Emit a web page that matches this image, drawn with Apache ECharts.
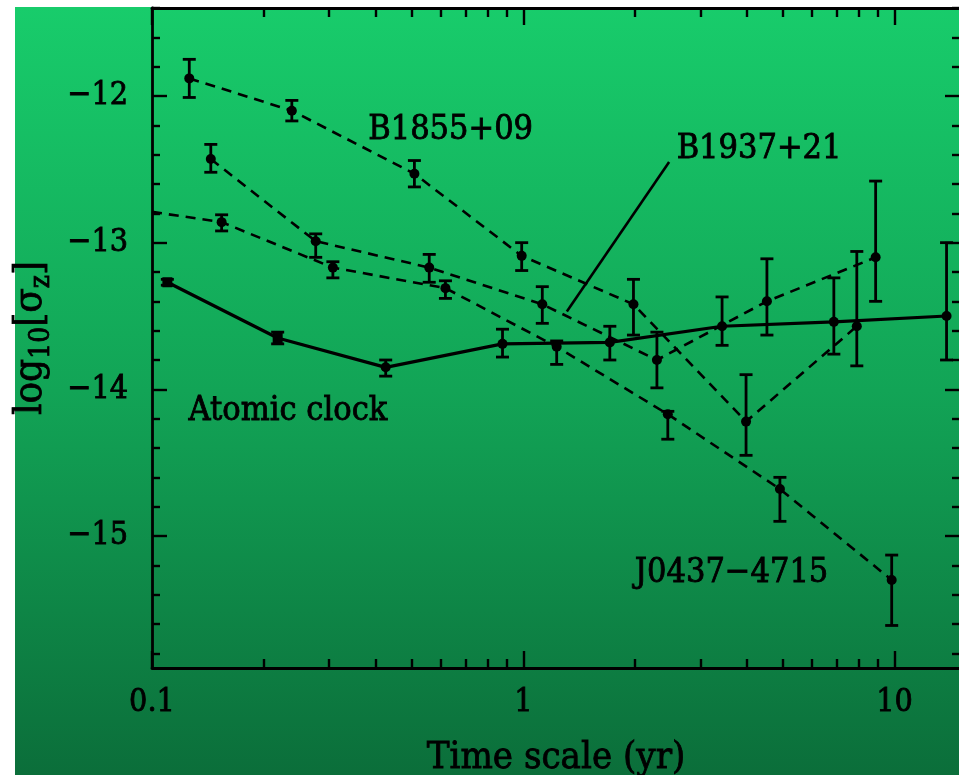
<!DOCTYPE html>
<html>
<head>
<meta charset="utf-8">
<script src="https://cdn.jsdelivr.net/npm/echarts@6/dist/echarts.min.js"></script>
<style>
  html, body { margin: 0; padding: 0; background: #ffffff; }
  #chart { width: 959px; height: 775px; }
</style>
</head>
<body>
<div id="chart"></div>
<script>
// Stability of clocks: log10 of sigma_z against averaging time (years)

// Atomic clock (solid line)
const atomicT  = [0.11, 0.218, 0.426, 0.879, 1.71, 3.43, 6.86, 13.8];
const atomicV  = [-13.27, -13.65, -13.85, -13.69, -13.68, -13.57, -13.54, -13.50];
const atomicLo = [-13.29, -13.69, -13.91, -13.78, -13.80, -13.70, -13.76, -13.80];
const atomicHi = [-13.25, -13.61, -13.80, -13.59, -13.57, -13.37, -13.24, -13.00];

// PSR B1855+09
const b1855T  = [0.126, 0.238, 0.509, 0.99, 1.98, 3.98, 7.91];
const b1855V  = [-11.88, -12.10, -12.53, -13.09, -13.42, -14.22, -13.57];
const b1855Lo = [-12.01, -12.17, -12.62, -13.19, -13.63, -14.45, -13.84];
const b1855Hi = [-11.75, -12.03, -12.44, -13.00, -13.25, -13.90, -13.06];

// PSR B1937+21
const b1937T  = [0.144, 0.276, 0.558, 1.125, 2.29, 4.53, 8.89];
const b1937V  = [-12.43, -12.99, -13.17, -13.42, -13.80, -13.40, -13.10];
const b1937Lo = [-12.52, -13.10, -13.27, -13.55, -13.99, -13.63, -13.40];
const b1937Hi = [-12.33, -12.94, -13.08, -13.30, -13.61, -13.11, -12.58];

// PSR J0437-4715 (first entry is where the curve enters at the left edge, no error bar)
const j0437T  = [0.1, 0.154, 0.307, 0.617, 1.23, 2.45, 4.91, 9.82];
const j0437V  = [-12.79, -12.86, -13.17, -13.31, -13.71, -14.17, -14.68, -15.30];
const j0437Lo = [null, -12.92, -13.24, -13.38, -13.83, -14.34, -14.90, -15.61];
const j0437Hi = [null, -12.81, -13.13, -13.26, -13.67, -14.15, -14.60, -15.13];

// Leader line from the B1937+21 label down to its curve
const leaderLine = [[1.31, -13.47], [2.47, -12.45]];

// Curve names written inside the plot, anchored at their left edge
const curveLabels = [
  { name: 'B1855+09',     value: [0.381, -12.235] },
  { name: 'B1937+21',     value: [2.58, -12.36] },
  { name: 'Atomic clock', value: [0.125, -14.15] },
  { name: 'J0437\u22124715', value: [1.99, -15.255] }
];

// Axis ranges and ticks
const xRange = [0.1, 15];
const yRange = [-15.9, -11.4];
const xMajorTicks = [0.1, 1, 10];
const xMinorTicks = [0.2, 0.3, 0.4, 0.5, 0.6, 0.7, 0.8, 0.9, 2, 3, 4, 5, 6, 7, 8, 9];
const yMajorTicks = [-15, -14, -13, -12];
const yMinorTicks = [-15.8, -15.6, -15.4, -15.2, -14.8, -14.6, -14.4, -14.2, -13.8, -13.6,
                     -13.4, -13.2, -12.8, -12.6, -12.4, -12.2, -11.8, -11.6, -11.4];

const FONT = "'DejaVu Serif Condensed', 'DejaVu Serif', serif";
const INK = '#000000';
// slight outline so the lettering reads as heavy as the plotted lines
const HEAVY = { textBorderColor: INK, textBorderWidth: 0.8 };

const chart = echarts.init(document.getElementById('chart'), null, { renderer: 'canvas' });

// plot frame: the right edge sits just past the page edge; no automatic shrinking
const gridBox = { left: 152, top: 8, width: 808, height: 660, containLabel: false, outerBoundsMode: 'none' };

function pairs(t, v) { return t.map((x, i) => [x, v[i]]); }

function errorData(t, lo, hi) {
  const out = [];
  t.forEach((x, i) => { if (lo[i] != null) out.push([x, lo[i], hi[i]]); });
  return out;
}

function errorSeries(t, lo, hi) {
  return {
    type: 'custom',
    xAxisIndex: 0,
    yAxisIndex: 0,
    silent: true,
    z: 4,
    data: errorData(t, lo, hi),
    encode: { x: 0, y: [1, 2] },
    renderItem(params, api) {
      const x = api.value(0);
      const pLo = api.coord([x, api.value(1)]);
      const pHi = api.coord([x, api.value(2)]);
      const half = 6.5;
      const st = { stroke: INK, lineWidth: 2.8 };
      return {
        type: 'group',
        children: [
          { type: 'line', shape: { x1: pLo[0], y1: pLo[1], x2: pHi[0], y2: pHi[1] }, style: st },
          { type: 'line', shape: { x1: pLo[0] - half, y1: pLo[1], x2: pLo[0] + half, y2: pLo[1] }, style: st },
          { type: 'line', shape: { x1: pHi[0] - half, y1: pHi[1], x2: pHi[0] + half, y2: pHi[1] }, style: st }
        ]
      };
    }
  };
}

function curve(name, t, v, dashed, symbolFn) {
  return {
    name: name,
    type: 'line',
    xAxisIndex: 0,
    yAxisIndex: 0,
    data: pairs(t, v),
    symbol: symbolFn || 'circle',
    symbolSize: 10,
    showSymbol: true,
    silent: true,
    z: 5,
    itemStyle: { color: INK },
    lineStyle: { color: INK, width: dashed ? 2.6 : 3.2, type: dashed ? [10, 7] : 'solid' },
    animation: false
  };
}

const axisLineStyle = { color: INK, width: 2.8 };

function xAxisDef(gridIndex, position, ticks, len, withLabels, withLine) {
  return {
    type: 'log',
    logBase: 10,
    gridIndex: gridIndex,
    position: position,
    min: xRange[0],
    max: xRange[1],
    axisLine: { show: withLine, lineStyle: axisLineStyle },
    axisTick: { show: true, inside: true, length: len, customValues: ticks,
                lineStyle: { color: INK, width: 2.4 } },
    axisLabel: withLabels ? Object.assign({
      show: true, customValues: xMajorTicks, margin: 19,
      color: INK, fontFamily: FONT, fontSize: 32,
      formatter: v => String(v)
    }, HEAVY) : { show: false },
    splitLine: { show: false },
    minorTick: { show: false },
    name: withLabels ? 'Time scale (yr)' : '',
    nameLocation: 'middle',
    nameGap: 71,
    nameTextStyle: Object.assign({ color: INK, fontFamily: FONT, fontSize: 38 }, HEAVY)
  };
}

function yAxisDef(gridIndex, position, ticks, len, withLabels, withLine) {
  return {
    type: 'value',
    gridIndex: gridIndex,
    position: position,
    min: yRange[0],
    max: yRange[1],
    axisLine: { show: withLine, lineStyle: axisLineStyle },
    axisTick: { show: true, inside: true, length: len, customValues: ticks,
                lineStyle: { color: INK, width: 2.4 } },
    axisLabel: withLabels ? Object.assign({
      show: true, customValues: yMajorTicks, margin: 24,
      color: INK, fontFamily: FONT, fontSize: 32,
      formatter: v => String(v).replace('-', '\u2212')
    }, HEAVY) : { show: false },
    splitLine: { show: false },
    name: withLabels ? '{n|log}{s|10}{n|[\u03c3}{s|z}{n|]}' : '',
    nameLocation: 'middle',
    nameRotate: 90,
    nameGap: 86,
    nameTextStyle: {
      color: INK, fontFamily: FONT, fontSize: 40,
      rich: {
        n: Object.assign({ fontFamily: FONT, fontSize: 40, color: INK, lineHeight: 50 }, HEAVY),
        s: Object.assign({ fontFamily: FONT, fontSize: 28, color: INK, lineHeight: 50,
             verticalAlign: 'bottom', padding: [18, 0, 0, 0] }, HEAVY)
      }
    }
  };
}

const option = {
  animation: false,
  backgroundColor: '#ffffff',
  graphic: {
    elements: [{
      type: 'rect',
      z: -100,
      silent: true,
      shape: { x: 15, y: 7, width: 944, height: 768 },
      style: {
        fill: new echarts.graphic.LinearGradient(0, 0, 0, 1, [
          { offset: 0, color: '#18cc6b' },
          { offset: 0.5, color: '#12a456' },
          { offset: 1, color: '#0b6e3a' }
        ])
      }
    }]
  },
  grid: [ Object.assign({}, gridBox), Object.assign({}, gridBox) ],
  xAxis: [
    xAxisDef(0, 'bottom', xMajorTicks, 17, true, true),
    xAxisDef(0, 'top', xMajorTicks, 17, false, true),
    xAxisDef(1, 'bottom', xMinorTicks, 9, false, false),
    xAxisDef(1, 'top', xMinorTicks, 9, false, false)
  ],
  yAxis: [
    yAxisDef(0, 'left', yMajorTicks, 15, true, true),
    yAxisDef(0, 'right', yMajorTicks, 15, false, false),
    yAxisDef(1, 'left', yMinorTicks, 8, false, false),
    yAxisDef(1, 'right', yMinorTicks, 8, false, false)
  ],
  series: [
    errorSeries(atomicT, atomicLo, atomicHi),
    errorSeries(b1855T, b1855Lo, b1855Hi),
    errorSeries(b1937T, b1937Lo, b1937Hi),
    errorSeries(j0437T, j0437Lo, j0437Hi),
    curve('Atomic clock', atomicT, atomicV, false,
          (val, p) => (p.dataIndex < 2 ? 'rect' : 'circle')),
    curve('B1855+09', b1855T, b1855V, true),
    curve('B1937+21', b1937T, b1937V, true),
    curve('J0437-4715', j0437T, j0437V, true,
          (val, p) => (p.dataIndex === 0 ? 'none' : 'circle')),
    {
      type: 'line',
      xAxisIndex: 0, yAxisIndex: 0,
      data: leaderLine,
      symbol: 'none',
      silent: true,
      z: 5,
      lineStyle: { color: INK, width: 2.6, type: 'solid' }
    },
    {
      type: 'scatter',
      xAxisIndex: 0, yAxisIndex: 0,
      data: curveLabels,
      symbol: 'circle',
      symbolSize: 1,
      silent: true,
      z: 6,
      itemStyle: { color: 'rgba(0,0,0,0)', opacity: 1 },
      label: Object.assign({
        show: true,
        position: 'right',
        distance: 0,
        opacity: 1,
        formatter: p => p.name,
        color: INK,
        fontFamily: FONT,
        fontSize: 34
      }, HEAVY)
    }
  ]
};

chart.setOption(option);
</script>
</body>
</html>
